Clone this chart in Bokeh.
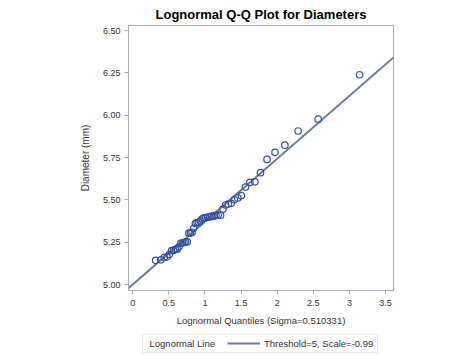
import math
from bokeh.plotting import figure
from bokeh.layouts import column
from bokeh.models import (Range1d, FixedTicker, NumeralTickFormatter, Legend, LegendItem,
                          Label, BoxAnnotation)
from bokeh.embed import file_html
from bokeh.resources import INLINE

# Lognormal quantiles (x) and sorted diameters (y)
quantiles = [0.3182, 0.3895, 0.4367, 0.4747, 0.5077, 0.5377, 0.5653, 0.5915, 0.6166, 0.6407,
             0.6643, 0.6874, 0.7103, 0.7326, 0.7552, 0.7776, 0.7999, 0.8223, 0.8449, 0.8679,
             0.8909, 0.9143, 0.9380, 0.9624, 0.9873, 1.0128, 1.0390, 1.0661, 1.0937, 1.1224,
             1.1522, 1.1835, 1.2162, 1.2502, 1.2861, 1.3242, 1.3651, 1.4079, 1.4548, 1.5054,
             1.5608, 1.6219, 1.6907, 1.7690, 1.8597, 1.9698, 2.1067, 2.2901, 2.5672, 3.1420]
diameters = [5.143, 5.146, 5.160, 5.164, 5.177, 5.200, 5.202, 5.208, 5.209, 5.223,
             5.244, 5.247, 5.248, 5.251, 5.252, 5.304, 5.304, 5.309, 5.332, 5.360,
             5.366, 5.368, 5.376, 5.388, 5.394, 5.394, 5.399, 5.399, 5.404, 5.404,
             5.409, 5.410, 5.410, 5.445, 5.470, 5.475, 5.480, 5.501, 5.512, 5.525,
             5.576, 5.603, 5.607, 5.661, 5.739, 5.781, 5.823, 5.907, 5.977, 6.239]
threshold = 5.0
scale = -0.99
sigma = 0.510331
x_ticks = [0, 0.5, 1, 1.5, 2, 2.5, 3, 3.5]
y_ticks = [5.00, 5.25, 5.50, 5.75, 6.00, 6.25, 6.50]

X0, X1 = -0.058, 3.61
Y0, Y1 = 4.965, 6.53

FONT = "Liberation Sans"
GRAY = "#A8ADB3"
TXT = "#333333"
LINE = "#6E7C98"
BL, BR = 128, 81   # side borders shared by both panels

p = figure(width=474, height=333, output_backend="svg", toolbar_location=None,
           x_range=Range1d(X0, X1), y_range=Range1d(Y0, Y1),
           min_border_left=BL, min_border_right=BR, min_border_top=25, min_border_bottom=43,
           title="Lognormal Q-Q Plot for Diameters")
p.title.align = "center"
p.title.text_font = FONT
p.title.text_font_size = "13px"
p.title.text_font_style = "bold"
p.title.text_color = "#000000"
p.title.standoff = 8

p.grid.visible = False
p.outline_line_color = GRAY
p.outline_line_width = 1
p.background_fill_color = "white"
p.border_fill_color = "white"

for ax in (p.xaxis[0], p.yaxis[0]):
    ax.axis_line_color = GRAY
    ax.major_tick_line_color = GRAY
    ax.major_tick_out = 4
    ax.major_tick_in = 0
    ax.minor_tick_line_color = None
    ax.major_label_text_font = FONT
    ax.major_label_text_font_size = "9px"
    ax.major_label_text_color = TXT
    ax.axis_label_text_font = FONT
    ax.axis_label_text_font_style = "normal"
    ax.axis_label_text_color = TXT

p.xaxis[0].ticker = FixedTicker(ticks=x_ticks)
p.xaxis[0].formatter = NumeralTickFormatter(format="0.[0]")
p.xaxis[0].axis_label = "Lognormal Quantiles (Sigma=%s)" % sigma
p.xaxis[0].axis_label_text_font_size = "9.5px"
p.xaxis[0].axis_label_standoff = 6
p.xaxis[0].major_label_standoff = 5
p.yaxis[0].ticker = FixedTicker(ticks=y_ticks)
p.yaxis[0].formatter = NumeralTickFormatter(format="0.00")
p.yaxis[0].axis_label = "Diameter (mm)"
p.yaxis[0].axis_label_text_font_size = "10px"
p.yaxis[0].axis_label_standoff = 9
p.yaxis[0].major_label_standoff = 4

# reference line from the fitted parameters
lx = [X0, X1]
ly = [threshold + math.exp(scale) * v for v in lx]
p.line(lx, ly, line_color=LINE, line_width=2)

p.scatter(quantiles, diameters, marker="circle", size=6.5, fill_color=None,
          line_color="#34509A", line_width=1.2)

# legend strip under the plot (its frame lines up with the plot frame above)
FW, LH = 474 - BL - BR, 22
q = figure(width=474, height=LH, output_backend="svg", toolbar_location=None,
           x_range=Range1d(0, FW), y_range=Range1d(0, LH),
           min_border_left=BL, min_border_right=BR, min_border_top=0, min_border_bottom=0)
q.axis.visible = False
q.grid.visible = False
q.outline_line_color = None
q.background_fill_color = "white"
q.border_fill_color = "white"
# legend proxy for the fit line (kept outside the visible strip)
leg_line = q.line([-20, -10], [-20, -20], line_color=LINE, line_width=2)

q.add_layout(BoxAnnotation(left=14, right=249, top=21.5, bottom=3,
                           fill_color=None, fill_alpha=0, line_color=GRAY, line_width=1))
q.add_layout(Label(x=21, y=12.5, text="Lognormal Line",
                   text_font=FONT, text_font_size="9.5px", text_color=TXT,
                   text_baseline="middle", text_align="left"))
legend = Legend(items=[LegendItem(label="Threshold=%g, Scale=%s" % (threshold, scale),
                                  renderers=[leg_line])],
                location=(99, 6), orientation="horizontal",
                border_line_color=None, background_fill_alpha=0,
                label_text_font=FONT, label_text_font_size="9.5px", label_text_color=TXT,
                glyph_width=33, glyph_height=12, label_height=12, padding=0, spacing=0,
                margin=0, label_standoff=4)
q.add_layout(legend)

open("out.html", "w").write(file_html(column(p, q, spacing=0), INLINE))
